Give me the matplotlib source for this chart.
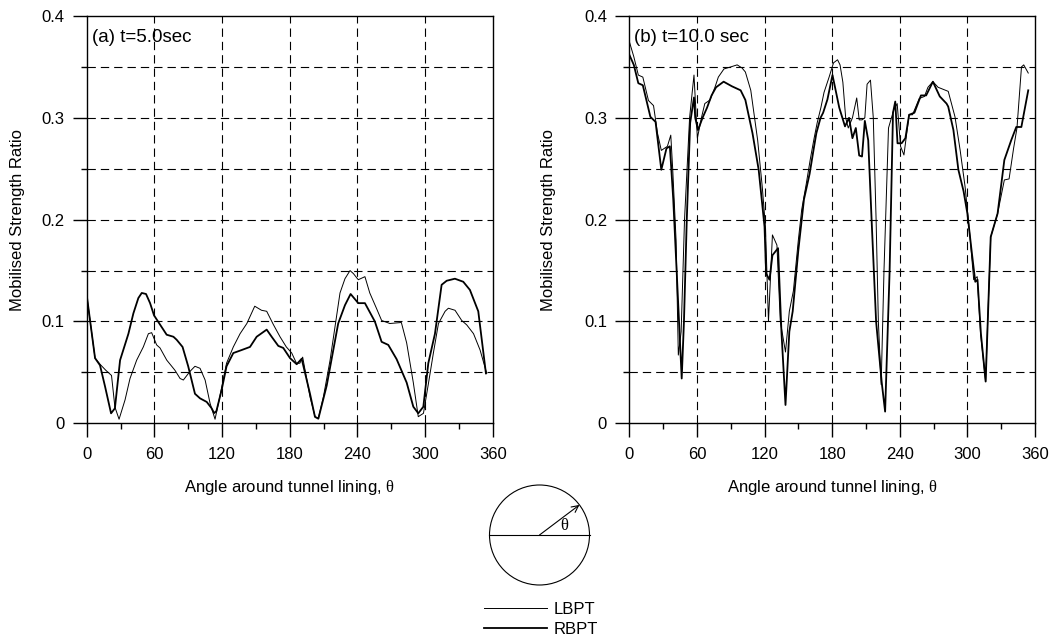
import matplotlib.pyplot as plt
import numpy as np
from matplotlib.lines import Line2D
from matplotlib.patches import Circle

plt.rcParams['font.family'] = ['Liberation Sans', 'DejaVu Sans']
plt.rcParams['font.size'] = 12
# upright serif theta, as in the symbol font
plt.rcParams['mathtext.fontset'] = 'custom'
plt.rcParams['mathtext.it'] = 'Liberation Serif'
plt.rcParams['mathtext.rm'] = 'Liberation Serif'

# (a) t = 5.0 sec
ang_a_lbpt = [0, 7.4, 11.8, 17, 22, 25, 28.7, 34, 38.4, 44.3, 50.2, 54.7, 57.6, 62, 65, 71,
              75.4, 78.3, 82.8, 85.7, 91.6, 96, 100.5, 105, 109.4, 113.8, 118, 124, 130, 136,
              142, 149, 155, 159.6, 165.5, 171.4, 177, 181.8, 186, 189, 191.5, 198, 202.5,
              205.4, 209.9, 215.8, 224.6, 229, 233.5, 236.5, 240.8, 246.7, 251, 256.9, 261.5,
              268.8, 279, 283.7, 289.6, 294, 298.6, 303, 307.4, 311.9, 317.8, 320.7, 326.6,
              332.5, 337, 343, 348.8, 354.7]
msr_a_lbpt = [0.126, 0.064, 0.058, 0.052, 0.047, 0.016, 0.004, 0.023, 0.044, 0.062, 0.075,
              0.088, 0.089, 0.077, 0.074, 0.062, 0.056, 0.052, 0.044, 0.0425, 0.051, 0.056,
              0.054, 0.0425, 0.0196, 0.004, 0.026, 0.059, 0.075, 0.088, 0.098, 0.115, 0.111,
              0.110, 0.097, 0.085, 0.075, 0.069, 0.059, 0.059, 0.065, 0.026, 0.0065, 0.005,
              0.026, 0.062, 0.128, 0.142, 0.150, 0.147, 0.141, 0.144, 0.128, 0.113, 0.101,
              0.098, 0.099, 0.079, 0.040, 0.0065, 0.0098, 0.039, 0.069, 0.098, 0.110, 0.113,
              0.111, 0.101, 0.0966, 0.088, 0.072, 0.049]

ang_a_rbpt = [0, 7.4, 11.8, 16.3, 21.6, 25, 29.6, 37, 41.4, 45.8, 48.8, 52.6, 56.2, 59.7,
              64.4, 70.9, 76.9, 79.8, 85, 90, 96, 100.5, 106.4, 110.8, 113, 115, 119.7, 124,
              130, 137.5, 144.8, 150.7, 159.6, 164, 169.9, 174.3, 180.3, 186.2, 190.6, 198,
              202.4, 205.4, 212.8, 223, 229, 234, 240.8, 246.7, 255.5, 261.5, 267.4, 274.8,
              283.7, 289.6, 294, 298.5, 302.9, 308.8, 314.7, 319.2, 326.5, 333.9, 339.8,
              347.2, 354]
msr_a_rbpt = [0.126, 0.064, 0.057, 0.036, 0.0098, 0.0147, 0.062, 0.088, 0.108, 0.123, 0.128,
              0.127, 0.118, 0.106, 0.098, 0.087, 0.085, 0.082, 0.075, 0.056, 0.029, 0.0245,
              0.021, 0.0147, 0.01, 0.012, 0.033, 0.056, 0.069, 0.072, 0.075, 0.085, 0.092,
              0.085, 0.076, 0.074, 0.064, 0.058, 0.0634, 0.029, 0.0063, 0.0045, 0.037, 0.098,
              0.116, 0.127, 0.118, 0.118, 0.10, 0.080, 0.077, 0.063, 0.040, 0.0163, 0.0098,
              0.0163, 0.059, 0.088, 0.136, 0.140, 0.142, 0.139, 0.131, 0.110, 0.049]

# (b) t = 10.0 sec
ang_b_lbpt = [0, 4, 8, 12, 17, 21.5, 25, 28.4, 33.8, 36.8, 38.5, 41.5, 43.5, 46, 49, 53.5,
              57.4, 60.4, 64, 67, 71.6, 76, 79, 84, 90, 95.7, 100, 103, 107.8, 113.9, 118,
              120.8, 123.5, 127, 131, 134, 138.6, 142, 145.6, 150, 153, 157, 160.7, 164,
              166.7, 170, 172.8, 177.3, 181.2, 184.8, 187, 189.5, 192, 194.3, 198, 201.8,
              204, 206.5, 209, 211, 214, 216.5, 219, 221, 223.5, 226, 230, 234.7, 237.7,
              240.7, 243.7, 248.3, 251.3, 257.3, 261.9, 265, 269.4, 274, 278.5, 283, 289,
              293.6, 298, 302, 305.6, 308.7, 311.7, 316.2, 318, 320.7, 326.8, 332.8, 337,
              341, 344, 348, 350, 354]
msr_b_lbpt = [0.375, 0.36, 0.342, 0.340, 0.317, 0.312, 0.285, 0.268, 0.272, 0.283, 0.25,
              0.18, 0.067, 0.09, 0.20, 0.30, 0.342, 0.28, 0.30, 0.314, 0.3175, 0.33, 0.340,
              0.348, 0.350, 0.352, 0.349, 0.345, 0.327, 0.278, 0.232, 0.193, 0.10, 0.185,
              0.175, 0.10, 0.070, 0.11, 0.13, 0.18, 0.21, 0.235, 0.26, 0.28, 0.295, 0.31,
              0.325, 0.34, 0.354, 0.357, 0.352, 0.335, 0.30, 0.29, 0.30, 0.3195, 0.298,
              0.298, 0.30, 0.333, 0.337, 0.30, 0.20, 0.10, 0.038, 0.15, 0.29, 0.308, 0.314,
              0.272, 0.2635, 0.303, 0.303, 0.319, 0.321, 0.33, 0.3355, 0.33, 0.328, 0.326,
              0.301, 0.268, 0.232, 0.187, 0.141, 0.144, 0.088, 0.041, 0.10, 0.183, 0.206,
              0.239, 0.24, 0.27, 0.29, 0.350, 0.352, 0.344]

ang_b_rbpt = [0, 4, 8, 12, 18.7, 23.3, 28.4, 33, 36, 39, 42, 46.5, 48.5, 51, 54, 57.4, 58.5,
              61, 65, 69, 73, 77, 83.7, 91, 98.8, 103, 109.3, 114.8, 120, 121.4, 124.4,
              127, 132, 135, 138.6, 142, 145, 150, 155, 160, 163.7, 166, 169.7, 172, 175.8,
              180.3, 186.3, 191.4, 195, 198, 201, 204, 206.5, 209, 212, 215, 219, 224, 227,
              231, 234, 236, 238, 241.6, 245, 248.3, 253, 258.8, 263.4, 269.4, 275.5, 281.5,
              283, 287.6, 292, 296.6, 300, 304, 307, 309, 312, 316.2, 320.7, 326.8, 332.8,
              338.9, 343.4, 347.9, 354]
msr_b_rbpt = [0.362, 0.352, 0.334, 0.332, 0.301, 0.296, 0.249, 0.27, 0.272, 0.22, 0.15,
              0.044, 0.10, 0.20, 0.295, 0.32, 0.30, 0.288, 0.30, 0.31, 0.322, 0.33, 0.3355,
              0.331, 0.327, 0.3175, 0.285, 0.249, 0.193, 0.147, 0.141, 0.165, 0.172, 0.09,
              0.018, 0.09, 0.11, 0.17, 0.22, 0.245, 0.27, 0.285, 0.30, 0.305, 0.318, 0.342,
              0.31, 0.2916, 0.30, 0.28, 0.29, 0.263, 0.262, 0.297, 0.278, 0.20, 0.10, 0.04,
              0.0115, 0.15, 0.305, 0.316, 0.275, 0.275, 0.28, 0.303, 0.305, 0.322, 0.322,
              0.3355, 0.321, 0.314, 0.311, 0.288, 0.249, 0.228, 0.206, 0.167, 0.139, 0.141,
              0.088, 0.041, 0.183, 0.206, 0.2586, 0.278, 0.291, 0.291, 0.327]

panels = [
    ('(a) t=5.0sec', ang_a_lbpt, msr_a_lbpt, ang_a_rbpt, msr_a_rbpt),
    ('(b) t=10.0 sec', ang_b_lbpt, msr_b_lbpt, ang_b_rbpt, msr_b_rbpt),
]

W, H = 1054, 644
fig = plt.figure(figsize=(W / 100, H / 100), dpi=100)

ax_rects = [
    [86.7 / W, 1 - 423.3 / H, 406 / W, 407.3 / H],
    [629.3 / W, 1 - 423.3 / H, 405.7 / W, 407.3 / H],
]
ylab_x = [-0.152, -0.181]

grid_kw = dict(color='black', lw=0.8, ls=(0, (7.5, 4.5)))

for rect, (tag, xa, ya, xb, yb), yl in zip(ax_rects, panels, ylab_x):
    ax = fig.add_axes(rect)
    ax.plot(xa, ya, color='black', lw=0.7)
    ax.plot(xb, yb, color='black', lw=1.3)

    ax.set_xlim(0, 360)
    ax.set_ylim(0, 0.4)
    ax.set_xticks(np.arange(0, 361, 60))
    ax.set_xticks(np.arange(30, 360, 60), minor=True)
    ax.set_yticks([0, 0.1, 0.2, 0.3, 0.4])
    ax.set_yticklabels(['0', '0.1', '0.2', '0.3', '0.4'])
    ax.set_yticks(np.arange(0.05, 0.4, 0.1), minor=True)
    ax.tick_params(which='major', direction='out', length=10, width=1, pad=7)
    ax.tick_params(which='minor', direction='out', length=4.5, width=1)
    ax.tick_params(axis='y', which='major', pad=6)

    for gx in range(60, 360, 60):
        ax.axvline(gx, **grid_kw)
    for gy in np.arange(0.05, 0.36, 0.05):
        ax.axhline(gy, **grid_kw)

    for s in ax.spines.values():
        s.set_linewidth(1.0)

    ax.set_xlabel(r'Angle around tunnel lining, $\theta$')
    ax.xaxis.set_label_coords(0.5, -0.135)
    ax.set_ylabel('Mobilised Strength Ratio')
    ax.yaxis.set_label_coords(yl, 0.5)

    ax.text(0.012, 0.948, tag, transform=ax.transAxes, fontsize=13.5, va='center', ha='left')

# sketch of the lining with the angle convention
cx, cy, r = 539.5, 535, 50
sk = fig.add_axes([(cx - 60) / W, 1 - (cy + 60) / H, 120 / W, 120 / H])
sk.set_xlim(-1.2, 1.2)
sk.set_ylim(-1.2, 1.2)
sk.axis('off')
sk.add_patch(Circle((0, 0), 1, fill=False, ec='black', lw=0.8))
sk.plot([-1, 1], [0, 0], color='black', lw=0.8)
a = np.deg2rad(37)
sk.annotate('', xy=(np.cos(a), np.sin(a)), xytext=(0, 0),
            arrowprops=dict(arrowstyle='->', color='black', lw=0.8, shrinkA=0, shrinkB=0))
sk.text(0.5, 0.2, r'$\theta$', fontsize=12, ha='center', va='center')

handles = [Line2D([], [], color='black', lw=0.7), Line2D([], [], color='black', lw=1.3)]
fig.legend(handles, ['LBPT', 'RBPT'], loc='upper left', bbox_to_anchor=(484 / W, 1 - 602 / H),
           frameon=False, handlelength=3.8, handletextpad=0.4, labelspacing=0.3,
           borderpad=0, borderaxespad=0)

fig.savefig('out.png', dpi=100)
